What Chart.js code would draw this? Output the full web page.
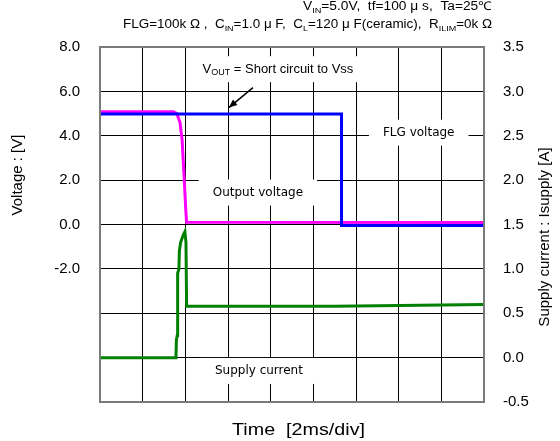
<!DOCTYPE html>
<html>
<head>
<meta charset="utf-8">
<script src="https://cdn.jsdelivr.net/npm/chart.js@4.4.0/dist/chart.umd.min.js"></script>
<style>
  html, body { margin: 0; padding: 0; background: #fff; }
  #wrap { width: 560px; height: 441px; }
</style>
</head>
<body>
<div id="wrap"><canvas id="scope"></canvas></div>
<script>
// time axis in ms (2 ms/div)
var flgTime = [0, 11.32, 11.32, 18];
var flgVolt = [4.98, 4.98, -0.04, -0.04];

var outTime = [0, 3.45, 3.6, 3.75, 3.85, 3.95, 4.03, 4.06, 18];
var outVolt = [5.08, 5.08, 5.0, 4.6, 3.8, 2.0, 0.5, 0.1, 0.09];

var supTime = [0, 3.56, 3.58, 3.62, 3.64, 3.7, 3.72, 3.78, 3.9, 3.98, 4.03, 4.06, 11, 18];
var supAmp  = [0, 0, 0.2, 0.25, 0.95, 1.0, 1.2, 1.3, 1.38, 1.42, 1.3, 0.58, 0.58, 0.6];

var voltTicks = [8, 6, 4, 2, 0, -2];

function pts(xs, ys) {
    return xs.map(function (x, i) { return { x: x, y: ys[i] }; });
}

// draw text with subscripts: segs = [[text, isSub], ...]
function richText(ctx, x, y, segs, size, family) {
    var cx = x;
    segs.forEach(function (s) {
        var sub = s[1];
        ctx.font = (sub ? Math.round(size * 0.68) : size) + "px " + family;
        ctx.fillText(s[0], cx, sub ? y + size * 0.22 : y);
        cx += ctx.measureText(s[0]).width;
    });
    return cx - x;
}
function richWidth(ctx, segs, size, family) {
    var w = 0;
    segs.forEach(function (s) {
        ctx.font = (s[1] ? Math.round(size * 0.68) : size) + "px " + family;
        w += ctx.measureText(s[0]).width;
    });
    return w;
}
// same, stretched to a given width
function richFit(ctx, x, y, segs, size, family, width) {
    var k = width / richWidth(ctx, segs, size, family);
    ctx.save();
    ctx.translate(x, y);
    ctx.scale(k, 1);
    richText(ctx, 0, 0, segs, size, family);
    ctx.restore();
}

var GOTH = '"DejaVu Sans", sans-serif';
var SANS = '"Liberation Sans", Arial, sans-serif';

// labels placed in data units (ms, V)
var notes = [
    { x: 8.34, y: 7.0, segs: [["V", 0], ["OUT", 1], [" = Short circuit to Vss", 0]], size: 13, font: SANS },
    { x: 14.94, y: 4.14, segs: [["FLG voltage", 0]], size: 12, font: GOTH },
    { x: 7.4, y: 1.44, segs: [["Output voltage", 0]], size: 12, font: GOTH },
    { x: 7.45, y: -6.6, segs: [["Supply current", 0]], size: 12, font: GOTH }
];

var decor = {
    id: "decor",
    afterDatasetsDraw: function (chart) {
        var ctx = chart.ctx, a = chart.chartArea;
        var sx = chart.scales.x, sy = chart.scales.y;
        ctx.save();

        // frame
        ctx.strokeStyle = "#7a7a7a";
        ctx.lineWidth = 2;
        ctx.strokeRect(a.left, a.top, a.right - a.left, a.bottom - a.top);

        // in-plot labels with white boxes
        ctx.textBaseline = "middle";
        notes.forEach(function (n) {
            var w = richWidth(ctx, n.segs, n.size, n.font);
            var px = sx.getPixelForValue(n.x), py = sy.getPixelForValue(n.y);
            ctx.fillStyle = "#fff";
            ctx.fillRect(px - w / 2 - 14, py - 13, w + 28, 26);
            ctx.fillStyle = "#000";
            richText(ctx, px - w / 2, py, n.segs, n.size, n.font);
        });

        // arrow
        var x1 = sx.getPixelForValue(7.17), y1 = sy.getPixelForValue(6.17);
        var x2 = sx.getPixelForValue(6.04), y2 = sy.getPixelForValue(5.27);
        ctx.strokeStyle = "#000";
        ctx.lineWidth = 1.5;
        ctx.beginPath();
        ctx.moveTo(x1, y1);
        ctx.lineTo(x2, y2);
        ctx.stroke();
        var ang = Math.atan2(y2 - y1, x2 - x1);
        ctx.fillStyle = "#000";
        ctx.beginPath();
        ctx.moveTo(x2, y2);
        ctx.lineTo(x2 - 9 * Math.cos(ang - 0.4), y2 - 9 * Math.sin(ang - 0.4));
        ctx.lineTo(x2 - 9 * Math.cos(ang + 0.4), y2 - 9 * Math.sin(ang + 0.4));
        ctx.closePath();
        ctx.fill();

        // header conditions (right edge at 492)
        ctx.textBaseline = "alphabetic";
        ctx.fillStyle = "#000";
        richFit(ctx, 303, 10, [["V", 0], ["IN", 1], ["=5.0V,  tf=100 μ s,  Ta=25℃", 0]], 12, SANS, 189);
        richFit(ctx, 123, 28, [["FLG=100k Ω ,  C", 0], ["IN", 1], ["=1.0 μ F,  C", 0], ["L", 1],
            ["=120 μ F(ceramic),  R", 0], ["ILIM", 1], ["=0k Ω", 0]], 12, SANS, 369);

        // axis titles
        ctx.textBaseline = "middle";
        richFit(ctx, 232, 430, [["Time  [2ms/div]", 0]], 17, SANS, 133);
        ctx.textAlign = "center";
        ctx.font = "15px " + SANS;
        ctx.save();
        ctx.translate(18, 175);
        ctx.rotate(-Math.PI / 2);
        ctx.fillText("Voltage : [V]", 0, 0);
        ctx.restore();
        ctx.save();
        ctx.translate(545, 237);
        ctx.rotate(-Math.PI / 2);
        ctx.fillText("Supply current : Isupply [A]", 0, 0);
        ctx.restore();

        ctx.restore();
    }
};

var ctx = document.getElementById("scope").getContext("2d");
var scopeChart = new Chart(ctx, {
    type: "line",
    data: {
        datasets: [{
                label: "Supply current",
                data: pts(supTime, supAmp),
                yAxisID: "y2",
                borderColor: "#008000",
                borderWidth: 3
            },
            {
                label: "FLG voltage",
                data: pts(flgTime, flgVolt),
                yAxisID: "y",
                borderColor: "#0000ff",
                borderWidth: 3
            },
            {
                label: "Output voltage",
                data: pts(outTime, outVolt),
                yAxisID: "y",
                borderColor: "#ff00ff",
                borderWidth: 3
            }
        ]
    },
    options: {
        responsive: true,
        maintainAspectRatio: false,
        animation: false,
        elements: { point: { radius: 0 }, line: { tension: 0 } },
        layout: { padding: { left: 0, right: 0, top: 47, bottom: 39 } },
        plugins: { legend: { display: false }, tooltip: { enabled: false } },
        scales: {
            x: {
                type: "linear",
                min: 0, max: 18,
                ticks: { display: false, stepSize: 2 },
                grid: { color: "#000", lineWidth: 1, drawTicks: false },
                border: { display: false },
                afterFit: function (s) { s.height = 0; }
            },
            y: {
                position: "left",
                min: -8, max: 8,
                ticks: {
                    stepSize: 2, padding: 20, color: "#000",
                    font: { size: 15, family: SANS },
                    callback: function (v) { return voltTicks.indexOf(v) >= 0 ? v.toFixed(1) : ""; }
                },
                grid: { color: "#000", lineWidth: 1, drawTicks: false },
                border: { display: false },
                afterFit: function (s) { s.width = 100; }
            },
            y2: {
                position: "right",
                min: -0.5, max: 3.5,
                ticks: {
                    stepSize: 0.5, padding: 19, color: "#000",
                    font: { size: 15, family: SANS },
                    callback: function (v) { return v.toFixed(1); }
                },
                grid: { display: false, drawTicks: false },
                border: { display: false },
                afterFit: function (s) { s.width = 76; }
            }
        }
    },
    plugins: [decor]
});
</script>
</body>
</html>
